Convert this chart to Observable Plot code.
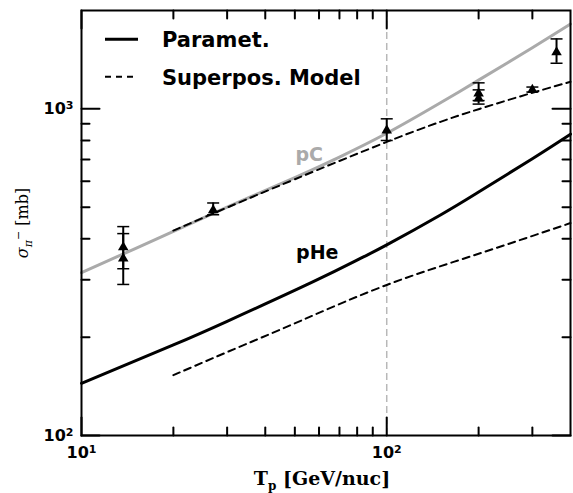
<!DOCTYPE html>
<html><head><meta charset="utf-8">
<script src="https://cdn.jsdelivr.net/npm/d3@7"></script>
<script src="https://cdn.jsdelivr.net/npm/@observablehq/plot@0.6"></script>
<style>body{margin:0;background:#fff;} svg{display:block}</style>
</head><body><div id="chart"></div>
<script>
// pC parametrization (gray solid)
const pcParamX = [10, 15, 20, 30, 50, 70, 100, 150, 200, 300, 400];
const pcParamY = [315, 373.6, 421.4, 499.8, 616, 712, 841.6, 1043.6, 1224, 1538.6, 1818];
// pC superposition model (dashed)
const pcSupX = [20, 30, 50, 100, 150, 200, 300, 400];
const pcSupY = [424, 498.7, 608.7, 792, 912.5, 997.6, 1119.8, 1210];
// pHe parametrization (black solid)
const pheParamX = [10, 20, 30, 57, 82, 100, 150, 200, 300, 400];
const pheParamY = [144.5, 189.3, 223.6, 294.7, 348.4, 383.3, 473.4, 556.4, 703.9, 836.5];
// pHe superposition model (dashed)
const pheSupX = [20, 30, 52, 100, 200, 400];
const pheSupY = [153, 180, 224, 289, 360, 447];
// measurements (triangles with error bars)
const dataX  = [13.7, 13.7, 27, 100, 200, 200, 300, 360];
const dataY  = [377, 348, 489, 859, 1114, 1075, 1143, 1490];
const dataLo = [324, 290, 474, 800, 1060, 1034, 1126, 1379];
const dataHi = [436, 415, 515, 932, 1201, 1143, 1166, 1637];
// ticks
const xMajor = [10, 100];
const xMinor = [20, 30, 40, 50, 60, 70, 80, 90, 200, 300];
const yMajor = [100, 1000];
const yMinor = [200, 300, 400, 500, 600, 700, 800, 900];
const xTickLabels = {10: "10\u00B9", 100: "10\u00B2"};
const yTickLabels = {100: "10\u00B2", 1000: "10\u00B3"};

const toRows = (X, Y) => X.map((x, i) => ({x, y: Y[i]}));
const points = dataX.map((x, i) => ({x, y: dataY[i], lo: dataLo[i], hi: dataHi[i]}));

const tickShape = {draw(ctx, l) { ctx.moveTo(0, 0); ctx.lineTo(0, -l); }};
const capSymbol = {draw(ctx, size) { const w = Math.sqrt(size / Math.PI); ctx.moveTo(-w, 0); ctx.lineTo(w, 0); }};

function sideTicks(values, len) {
  const common = {length: len, anchor: "start", shape: tickShape, stroke: "black", strokeWidth: 2};
  return [
    Plot.vector(values.x, {...common, x: d => d, frameAnchor: "bottom", rotate: 0}),
    Plot.vector(values.x, {...common, x: d => d, frameAnchor: "top", rotate: 180}),
    Plot.vector(values.y, {...common, y: d => d, frameAnchor: "left", rotate: 90}),
    Plot.vector(values.y, {...common, y: d => d, frameAnchor: "right", rotate: 270})
  ];
}

const plot = Plot.plot({
  width: 573, height: 493,
  marginLeft: 81, marginRight: 3, marginTop: 10, marginBottom: 58,
  x: {type: "log", domain: [10, 400]},
  y: {type: "log", domain: [100, 2000]},
  style: {fontFamily: "DejaVu Sans", background: "white", color: "black"},
  marks: [
    Plot.ruleX([100], {stroke: "#b8b8b8", strokeWidth: 1.5, strokeDasharray: "7,4"}),
    Plot.line(toRows(pcParamX, pcParamY), {x: "x", y: "y", stroke: "#aaaaaa", strokeWidth: 3, curve: "natural"}),
    Plot.line(toRows(pcSupX, pcSupY), {x: "x", y: "y", stroke: "black", strokeWidth: 2, strokeDasharray: "7,5", curve: "natural"}),
    Plot.line(toRows(pheParamX, pheParamY), {x: "x", y: "y", stroke: "black", strokeWidth: 3, curve: "natural"}),
    Plot.line(toRows(pheSupX, pheSupY), {x: "x", y: "y", stroke: "black", strokeWidth: 2, strokeDasharray: "7,5", curve: "natural"}),
    Plot.ruleX(points, {x: "x", y1: "lo", y2: "hi", stroke: "black", strokeWidth: 2}),
    Plot.dot(points, {x: "x", y: "lo", symbol: capSymbol, r: 6, stroke: "black", strokeWidth: 1.5, fill: "none"}),
    Plot.dot(points, {x: "x", y: "hi", symbol: capSymbol, r: 6, stroke: "black", strokeWidth: 1.5, fill: "none"}),
    Plot.dot(points, {x: "x", y: "y", symbol: "triangle", r: 3.9, fill: "black", stroke: "none"}),
    Plot.text(["pC"], {x: 55.7, y: 724, text: d => d, fill: "#aaaaaa", fontSize: 19, fontWeight: "bold"}),
    Plot.text(["pHe"], {x: 59.2, y: 363, text: d => d, fill: "black", fontSize: 19, fontWeight: "bold"}),
    ...sideTicks({x: xMajor, y: yMajor}, 18),
    ...sideTicks({x: xMinor, y: yMinor}, 8),
    Plot.frame({stroke: "black", strokeWidth: 2}),
    Plot.axisX({ticks: xMajor, tickFormat: d => xTickLabels[d], tickSize: 0, tickPadding: 11, fontSize: 16, fontWeight: "bold", label: null}),
    Plot.axisY({ticks: yMajor, tickFormat: d => yTickLabels[d], tickSize: 0, tickPadding: 8, fontSize: 16, fontWeight: "bold", label: null})
  ]
});

const svg = d3.select(plot);

// render tick-label exponents as raised tspans
const supMap = {"\u00B9": "1", "\u00B2": "2", "\u00B3": "3"};
svg.selectAll('g[aria-label="x-axis tick label"] text, g[aria-label="y-axis tick label"] text').each(function() {
  const t = d3.select(this);
  const s = t.text();
  const last = s.slice(-1);
  if (supMap[last]) {
    t.text(s.slice(0, -1));
    t.append("tspan").attr("font-size", 11).attr("dy", "-0.45em").text(supMap[last]);
  }
});

// axis titles
const xt = svg.append("text").attr("x", 322).attr("y", 485).attr("text-anchor", "middle")
  .attr("font-family", "DejaVu Serif").attr("font-weight", "bold").attr("font-size", 19).attr("fill", "black");
xt.append("tspan").text("T");
xt.append("tspan").attr("font-size", 12).attr("dy", 5).text("p");
xt.append("tspan").attr("dy", -5).text(" [GeV/nuc]");

const yt = svg.append("text").attr("transform", "translate(28,223) rotate(-90)").attr("text-anchor", "middle")
  .attr("font-family", "DejaVu Serif").attr("font-size", 16).attr("fill", "black");
yt.append("tspan").attr("font-style", "italic").text("\u03C3");
yt.append("tspan").attr("font-size", 11).attr("font-style", "italic").attr("dy", 4).text("\u03C0");
yt.append("tspan").attr("font-size", 11).attr("dy", -10).text("\u2212");
yt.append("tspan").attr("dy", 6).text(" [mb]");

// legend
const lg = svg.append("g").attr("text-anchor", "start");
lg.append("line").attr("x1", 105).attr("x2", 138).attr("y1", 39.3).attr("y2", 39.3).attr("stroke", "black").attr("stroke-width", 3);
lg.append("text").attr("x", 162).attr("y", 47).attr("text-anchor", "start").attr("font-family", "DejaVu Sans").attr("font-weight", "bold").attr("font-size", 21).text("Paramet.");
lg.append("line").attr("x1", 105).attr("x2", 138).attr("y1", 76.7).attr("y2", 76.7).attr("stroke", "black").attr("stroke-width", 2).attr("stroke-dasharray", "6,5");
lg.append("text").attr("x", 162).attr("y", 85).attr("text-anchor", "start").attr("font-family", "DejaVu Sans").attr("font-weight", "bold").attr("font-size", 21).text("Superpos. Model");

document.getElementById("chart").appendChild(plot);
</script>
</body></html>
